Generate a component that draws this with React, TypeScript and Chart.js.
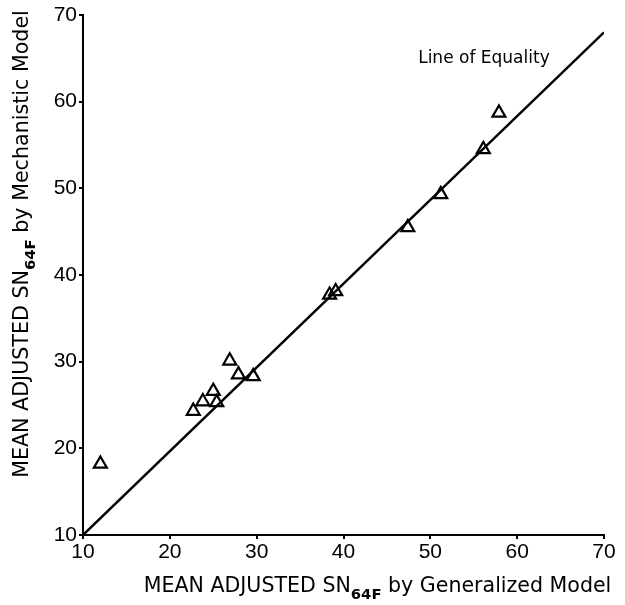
import React, { useEffect, useRef } from "react";
import { Chart, registerables } from "chart.js";

Chart.register(...registerables);

// Data
const generalizedX = [12.0, 22.7, 23.8, 25.0, 25.4, 26.9, 27.9, 29.6, 38.4, 39.1, 47.4, 51.2, 56.1, 57.9];
const mechanisticY = [18.2, 24.3, 25.4, 26.6, 25.3, 30.1, 28.5, 28.3, 37.7, 38.1, 45.5, 49.3, 54.5, 58.7];
const equalityX = [10, 70];
const equalityY = [10, 68];
const axisTicks = [10, 20, 30, 40, 50, 60, 70];
const equalityLabel = "Line of Equality";
const equalityLabelAt = [48.6, 65.0];
const xTitleParts = [
  { t: "MEAN ADJUSTED SN", sub: false },
  { t: "64F", sub: true },
  { t: " by Generalized Model", sub: false },
];
const yTitleParts = [
  { t: "MEAN ADJUSTED SN", sub: false },
  { t: "64F", sub: true },
  { t: " by Mechanistic Model", sub: false },
];

const FONT = "'Liberation Sans', Arial, sans-serif";
const TITLE_FONT = "'DejaVu Sans', 'Liberation Sans', sans-serif";

function drawRich(ctx: CanvasRenderingContext2D, parts: { t: string; sub: boolean }[], target: number) {
  const measure = (size: number) => {
    let total = 0;
    const widths = parts.map((p) => {
      ctx.font = p.sub ? `bold ${size * 0.72}px ${TITLE_FONT}` : `${size}px ${TITLE_FONT}`;
      const w = ctx.measureText(p.t).width;
      total += w;
      return w;
    });
    return { total, widths };
  };
  const base = measure(20);
  const size = Math.min(22, 20 * (target / base.total));
  const { total, widths } = measure(size);
  let x = -total / 2;
  parts.forEach((p, i) => {
    ctx.font = p.sub ? `bold ${size * 0.72}px ${TITLE_FONT}` : `${size}px ${TITLE_FONT}`;
    ctx.fillText(p.t, x, p.sub ? size * 0.32 : 0);
    x += widths[i];
  });
}

const titlesPlugin = {
  id: "richTitles",
  afterDraw(chart: any) {
    const ctx: CanvasRenderingContext2D = chart.ctx;
    const area = chart.chartArea;
    ctx.save();
    ctx.fillStyle = "#000";
    ctx.textBaseline = "alphabetic";
    ctx.textAlign = "left";
    // x title
    ctx.save();
    ctx.translate((area.left + area.right) / 2 + 34, area.bottom + 57);
    drawRich(ctx, xTitleParts, 468);
    ctx.restore();
    // y title
    ctx.save();
    ctx.translate(28, (area.top + area.bottom) / 2 - 31);
    ctx.rotate(-Math.PI / 2);
    drawRich(ctx, yTitleParts, 468);
    ctx.restore();
    // annotation
    const xs = chart.scales.x;
    const ys = chart.scales.y;
    ctx.font = `17px ${TITLE_FONT}`;
    ctx.textBaseline = "middle";
    ctx.fillText(equalityLabel, xs.getPixelForValue(equalityLabelAt[0]), ys.getPixelForValue(equalityLabelAt[1]));
    ctx.restore();
  },
};

export default function App() {
  const ref = useRef<HTMLCanvasElement | null>(null);
  useEffect(() => {
    document.body.style.margin = "0";
    if (!ref.current) return;
    const tickFont = { family: FONT, size: 21 };
    const chart = new Chart(ref.current, {
      type: "scatter",
      data: {
        datasets: [
          {
            type: "line",
            data: equalityX.map((x, i) => ({ x, y: equalityY[i] })),
            borderColor: "#000",
            borderWidth: 2.5,
            pointRadius: 0,
            fill: false,
          } as any,
          {
            data: generalizedX.map((x, i) => ({ x, y: mechanisticY[i] })),
            pointStyle: "triangle",
            pointRadius: 7.5,
            borderColor: "#000",
            borderWidth: 2.2,
            backgroundColor: "rgba(255,255,255,0)",
          },
        ],
      },
      options: {
        animation: false,
        responsive: false,
        layout: { padding: { left: 0, right: 21, top: 15, bottom: 0 } },
        plugins: { legend: { display: false }, tooltip: { enabled: false } },
        scales: {
          x: {
            type: "linear",
            min: 10,
            max: 70,
            afterFit: (s: any) => {
              s.height = 70;
            },
            afterBuildTicks: (s: any) => {
              s.ticks = axisTicks.map((v) => ({ value: v }));
            },
            ticks: { color: "#000", font: tickFont, padding: 1, maxRotation: 0 },
            grid: { drawOnChartArea: false, drawTicks: true, tickLength: 4, color: "#000", lineWidth: 2 },
            border: { display: true, color: "#000", width: 2 },
          },
          y: {
            type: "linear",
            min: 10,
            max: 70,
            afterFit: (s: any) => {
              s.width = 83;
            },
            afterBuildTicks: (s: any) => {
              s.ticks = axisTicks.map((v) => ({ value: v }));
            },
            ticks: { color: "#000", font: tickFont, padding: 2 },
            grid: { drawOnChartArea: false, drawTicks: true, tickLength: 4, color: "#000", lineWidth: 2 },
            border: { display: true, color: "#000", width: 2 },
          },
        },
      },
      plugins: [titlesPlugin],
    });
    return () => chart.destroy();
  }, []);
  return (
    <div style={{ width: 625, height: 605, background: "#fff" }}>
      <canvas ref={ref} width={625} height={605} />
    </div>
  );
}
